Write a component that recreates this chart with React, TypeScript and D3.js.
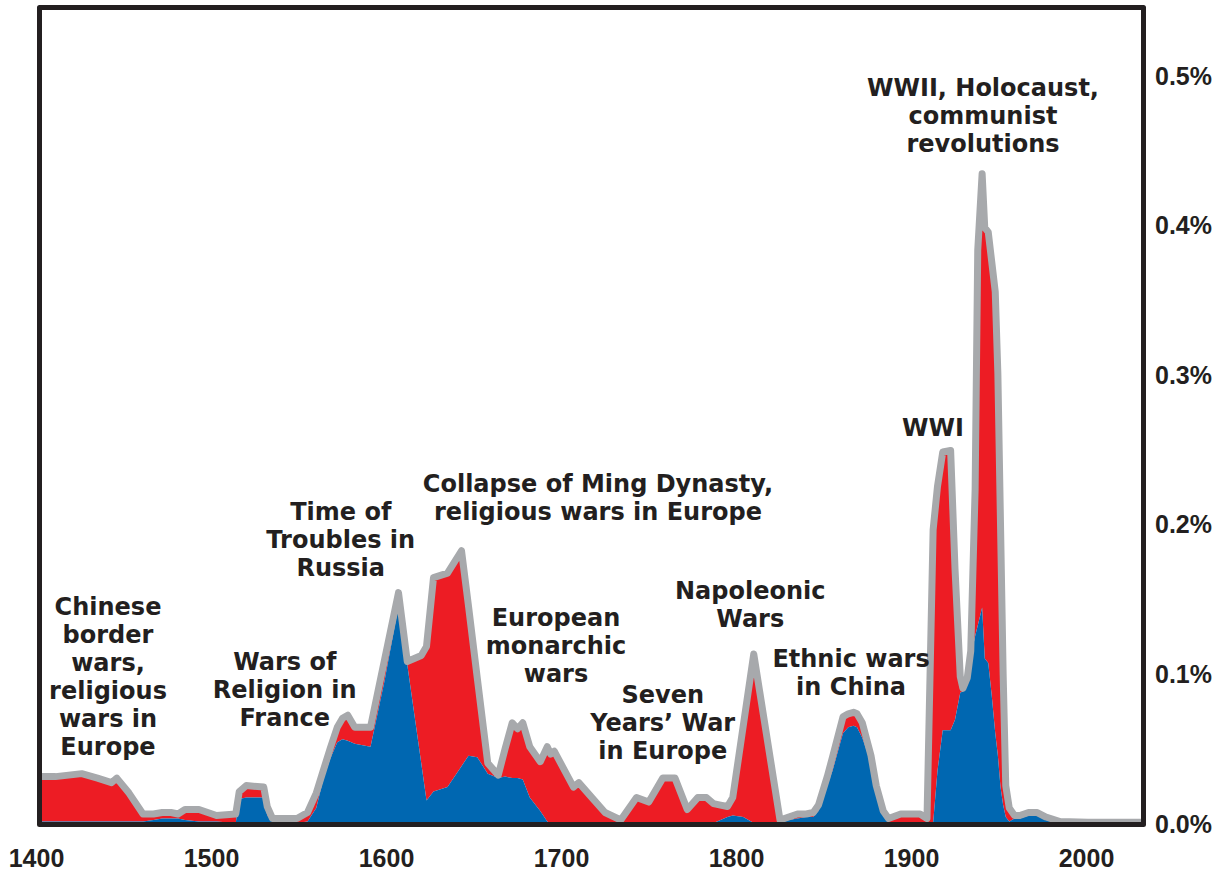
import React, { useEffect, useRef } from 'react'
import * as d3 from 'd3'

// war death rate, % of world population per year
const years = [
  1400, 1410, 1425, 1434, 1442, 1445, 1452, 1460, 1466, 1471, 1476, 1480, 1484, 1492, 1497, 1502,
  1513, 1515, 1519, 1529, 1531, 1534, 1548, 1554, 1559, 1563, 1567, 1571, 1574, 1577, 1581, 1590,
  1598, 1606, 1611, 1619, 1622, 1626, 1634, 1642, 1646, 1651, 1657, 1663, 1667, 1671, 1674, 1677,
  1681, 1687, 1691, 1693, 1695, 1706, 1709, 1715, 1724, 1733, 1742, 1749, 1757, 1764, 1771, 1777,
  1782, 1786, 1790, 1794, 1797, 1803, 1809, 1824, 1829, 1834, 1839, 1843, 1846, 1851, 1854, 1860,
  1863, 1866, 1868, 1871, 1876, 1879, 1883, 1886, 1893, 1904, 1908, 1911.5, 1914, 1917, 1921.5, 1924,
  1927, 1928.5, 1931, 1933, 1935.5, 1937, 1939.5, 1941, 1943, 1945, 1947, 1948.5, 1950, 1951.5, 1953, 1955,
  1958, 1961, 1966, 1971, 1976, 1984, 2000, 2030,
]
const totalRate = [
  0.031, 0.031, 0.033, 0.030, 0.027, 0.030, 0.020, 0.006, 0.006, 0.007, 0.007, 0.006, 0.009, 0.009, 0.007, 0.005,
  0.006, 0.021, 0.025, 0.024, 0.011, 0.003, 0.003, 0.007, 0.020, 0.035, 0.050, 0.064, 0.070, 0.072, 0.064, 0.064,
  0.109, 0.154, 0.108, 0.112, 0.118, 0.164, 0.167, 0.182, 0.145, 0.097, 0.040, 0.032, 0.050, 0.067, 0.063, 0.067,
  0.051, 0.041, 0.051, 0.046, 0.048, 0.024, 0.027, 0.019, 0.007, 0.002, 0.017, 0.014, 0.030, 0.030, 0.009, 0.017,
  0.017, 0.013, 0.012, 0.011, 0.017, 0.065, 0.113, 0.002, 0.004, 0.006, 0.006, 0.007, 0.012, 0.031, 0.044, 0.071,
  0.073, 0.074, 0.073, 0.067, 0.045, 0.025, 0.008, 0.003, 0.006, 0.006, 0.003, 0.196, 0.225, 0.248, 0.249, 0.170,
  0.098, 0.090, 0.097, 0.115, 0.223, 0.383, 0.434, 0.398, 0.395, 0.375, 0.355, 0.300, 0.200, 0.100, 0.025, 0.010,
  0.005, 0.005, 0.007, 0.007, 0.004, 0.001, 0.0005, 0.0005,
]
const blueRate = [
  0.001, 0.001, 0.001, 0.001, 0.001, 0.001, 0.001, 0.001, 0.002, 0.003, 0.003, 0.003, 0.002, 0.001, 0.001, 0.001,
  0.000, 0.016, 0.017, 0.017, 0.005, 0.001, 0.000, 0.001, 0.010, 0.029, 0.043, 0.054, 0.056, 0.055, 0.053, 0.051,
  0.095, 0.145, 0.106, 0.040, 0.015, 0.021, 0.024, 0.038, 0.045, 0.044, 0.033, 0.030, 0.031, 0.030, 0.030, 0.029,
  0.017, 0.008, 0.001, 0.000, 0.000, 0.000, 0.000, 0.000, 0.000, 0.000, 0.000, 0.000, 0.000, 0.000, 0.000, 0.000,
  0.000, 0.000, 0.002, 0.004, 0.005, 0.004, 0.000, 0.000, 0.002, 0.003, 0.004, 0.004, 0.008, 0.025, 0.035, 0.060,
  0.064, 0.065, 0.064, 0.057, 0.040, 0.020, 0.006, 0.000, 0.000, 0.000, 0.000, 0.000, 0.035, 0.062, 0.062, 0.069,
  0.087, 0.088, 0.094, 0.110, 0.125, 0.132, 0.144, 0.110, 0.107, 0.085, 0.060, 0.045, 0.024, 0.012, 0.004, 0.001,
  0.003, 0.003, 0.005, 0.005, 0.002, 0.000, 0.000, 0.000,
]

const yearTicks = [1400, 1500, 1600, 1700, 1800, 1900, 2000]
const rateTicks = [0, 0.1, 0.2, 0.3, 0.4, 0.5]

// labels anchored at (year, rate) of the first line's baseline
const eventLabels = [
  { year: 1440, rate: 0.139, lines: ['Chinese', 'border', 'wars,', 'religious', 'wars in', 'Europe'] },
  { year: 1541, rate: 0.1023, lines: ['Wars of', 'Religion in', 'France'] },
  { year: 1573, rate: 0.2025, lines: ['Time of', 'Troubles in', 'Russia'] },
  { year: 1720, rate: 0.2213, lines: ['Collapse of Ming Dynasty,', 'religious wars in Europe'] },
  { year: 1696, rate: 0.1317, lines: ['European', 'monarchic', 'wars'] },
  { year: 1807, rate: 0.1497, lines: ['Napoleonic', 'Wars'] },
  { year: 1757, rate: 0.0802, lines: ['Seven', 'Years’ War', 'in Europe'] },
  { year: 1864.6, rate: 0.1043, lines: ['Ethnic wars', 'in China'] },
  { year: 1911.4, rate: 0.2587, lines: ['WWI'] },
  { year: 1940, rate: 0.486, lines: ['WWII, Holocaust,', 'communist', 'revolutions'] },
]

const W = 1228, H = 873
const ink = '#231f20'

export default function App() {
  const ref = useRef<SVGSVGElement>(null)

  useEffect(() => {
    document.body.style.margin = '0'
    const svg = d3.select(ref.current)
    svg.selectAll('*').remove()

    const x = d3.scaleLinear().domain([1400, 2032]).range([38, 1144])
    const y = d3.scaleLinear().domain([0, 0.5]).range([823, 75])

    const rows = years.map((yr, i) => ({ yr, total: totalRate[i], blue: blueRate[i] }))

    svg.append('clipPath').attr('id', 'plotClip')
      .append('rect').attr('x', 40).attr('y', 9).attr('width', 1102).attr('height', 815)

    const plot = svg.append('g').attr('clip-path', 'url(#plotClip)')

    const redArea = d3.area<any>()
      .x(d => x(d.yr)).y0(d => y(d.blue)).y1(d => y(d.total))
    const blueArea = d3.area<any>()
      .x(d => x(d.yr)).y0(y(0)).y1(d => y(d.blue))
    const totalLine = d3.line<any>()
      .x(d => x(d.yr)).y(d => y(d.total))

    plot.append('path').datum(rows).attr('d', redArea).attr('fill', '#ed1c24')
    plot.append('path').datum(rows).attr('d', blueArea).attr('fill', '#0067b1')
    plot.append('path').datum(rows).attr('d', totalLine)
      .attr('fill', 'none').attr('stroke', '#a7a9ac').attr('stroke-width', 7)
      .attr('stroke-linejoin', 'round').attr('stroke-linecap', 'round')

    // frame
    svg.append('path')
      .attr('d', `M39.5,${y(0) - 800}V824.5H1143.5V7.5H39.5Z`)
      .attr('fill', 'none').attr('stroke', ink).attr('stroke-width', 5)
      .attr('stroke-linejoin', 'round')

    // axes
    const xAxis = d3.axisBottom(x).tickValues(yearTicks).tickSize(0).tickFormat(d => String(d))
    const gx = svg.append('g').attr('transform', 'translate(-2,867)').call(xAxis)
    gx.select('.domain').remove()
    gx.selectAll('text').attr('y', 0).attr('dy', 0)
      .attr('font-family', '"Liberation Sans", Arial, sans-serif')
      .attr('font-size', 25).attr('font-weight', 'bold').attr('fill', ink)

    const yAxis = d3.axisRight(y).tickValues(rateTicks).tickSize(0).tickPadding(0)
      .tickFormat(d => (d as number).toFixed(1) + '%')
    const gy = svg.append('g').attr('transform', 'translate(1155,0)').call(yAxis)
    gy.select('.domain').remove()
    gy.selectAll('text').attr('x', 0).attr('dy', '0.36em')
      .attr('font-family', '"Liberation Sans", Arial, sans-serif')
      .attr('font-size', 25).attr('font-weight', 'bold').attr('fill', ink)

    // event labels
    const labels = svg.append('g')
      .attr('font-family', '"DejaVu Sans", sans-serif')
      .attr('font-size', 24).attr('font-weight', 'bold')
      .attr('fill', ink).attr('text-anchor', 'middle')
    eventLabels.forEach(ev => {
      const t = labels.append('text')
        .attr('x', x(ev.year)).attr('y', y(ev.rate))
      ev.lines.forEach((ln, i) => {
        t.append('tspan').attr('x', x(ev.year)).attr('dy', i === 0 ? 0 : 28).text(ln)
      })
    })
  }, [])

  return <svg ref={ref} width={W} height={H} style={{ display: 'block', background: '#fff' }} />
}
